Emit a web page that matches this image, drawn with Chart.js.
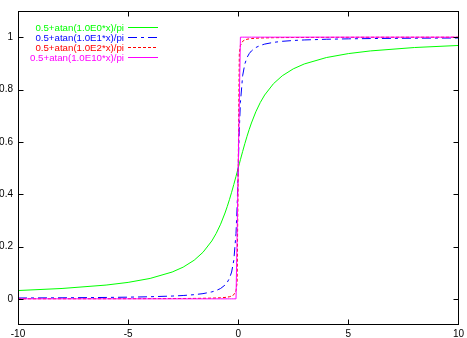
<!DOCTYPE html>
<html>
<head>
<meta charset="utf-8">
<script src="https://cdn.jsdelivr.net/npm/chart.js@4/dist/chart.umd.min.js"></script>
<style>
  html, body { margin: 0; padding: 0; background: #fff; }
  #wrap { width: 467px; height: 338px; }
</style>
</head>
<body>
<div id="wrap"><canvas id="myChart" width="467" height="338"></canvas></div>
<script>
// x positions the curves were read at (denser close to 0)
const xValues = [-10, -8, -6, -5, -4, -3, -2.5, -2, -1.6, -1.2, -1, -0.8, -0.6, -0.5, -0.4, -0.3, -0.2, -0.1, -0.05,
  0, 0.05, 0.1, 0.2, 0.3, 0.4, 0.5, 0.6, 0.8, 1, 1.2, 1.6, 2, 2.5, 3, 4, 5, 6, 8, 10];

// 0.5+atan(1.0E0*x)/pi
const greenValues = [0.0317, 0.0396, 0.0526, 0.0628, 0.0780, 0.1024, 0.1211, 0.1476, 0.1778, 0.2211, 0.25, 0.2852, 0.3280, 0.3524, 0.3789, 0.4072, 0.4372, 0.4683, 0.4841,
  0.5, 0.5159, 0.5317, 0.5628, 0.5928, 0.6211, 0.6476, 0.6720, 0.7148, 0.75, 0.7789, 0.8222, 0.8524, 0.8789, 0.8976, 0.9220, 0.9372, 0.9474, 0.9604, 0.9683];
// 0.5+atan(1.0E1*x)/pi
const blueValues = [0.0032, 0.0040, 0.0053, 0.0064, 0.0080, 0.0106, 0.0127, 0.0159, 0.0199, 0.0265, 0.0317, 0.0396, 0.0526, 0.0628, 0.0780, 0.1024, 0.1476, 0.25, 0.3524,
  0.5, 0.6476, 0.75, 0.8524, 0.8976, 0.9220, 0.9372, 0.9474, 0.9604, 0.9683, 0.9735, 0.9801, 0.9841, 0.9873, 0.9894, 0.9920, 0.9936, 0.9947, 0.9960, 0.9968];
// 0.5+atan(1.0E2*x)/pi
const redValues = [0.0003, 0.0004, 0.0005, 0.0006, 0.0008, 0.0011, 0.0013, 0.0016, 0.0020, 0.0027, 0.0032, 0.0040, 0.0053, 0.0064, 0.0080, 0.0106, 0.0159, 0.0317, 0.0628,
  0.5, 0.9372, 0.9683, 0.9841, 0.9894, 0.9920, 0.9936, 0.9947, 0.9960, 0.9968, 0.9973, 0.9980, 0.9984, 0.9987, 0.9989, 0.9992, 0.9994, 0.9995, 0.9996, 0.9997];
// 0.5+atan(1.0E10*x)/pi  (the plot only shows the step between x=-0.1 and x=0.1)
const magentaValues = [0, 0, 0, 0, 0, 0, 0, 0, 0, 0, 0, 0, 0, 0, 0, 0, 0, 0, null,
  null, null, 1, 1, 1, 1, 1, 1, 1, 1, 1, 1, 1, 1, 1, 1, 1, 1, 1, 1];

const seriesLabels = ["0.5+atan(1.0E0*x)/pi", "0.5+atan(1.0E1*x)/pi", "0.5+atan(1.0E2*x)/pi", "0.5+atan(1.0E10*x)/pi"];
const xTicks = [-10, -5, 0, 5, 10];
const yTicks = [0, 0.2, 0.4, 0.6, 0.8, 1];

const colors = ["#00ff00", "#0000ff", "#ff0000", "#ff00ff"];
const dashes = [[], [9, 4, 3, 4], [3, 2], []];

function toPoints(ys) {
  return xValues.map((x, i) => ({ x: x, y: ys[i] }));
}

const allValues = [greenValues, blueValues, redValues, magentaValues];
const datasets = allValues.map((vals, i) => ({
  label: seriesLabels[i],
  data: toPoints(vals),
  borderColor: colors[i],
  borderWidth: 1,
  borderDash: dashes[i],
  pointRadius: 0,
  tension: 0,
  fill: false,
  spanGaps: true,
  order: 4 - i, // last series on top, like gnuplot
}));

const FONT = "Liberation Sans";

// gnuplot style frame: box all round, ticks pointing inwards on every side, key inside
const framePlugin = {
  id: "frame",
  afterDraw(chart) {
    const ctx = chart.ctx;
    const a = chart.chartArea;
    const xs = chart.scales.x;
    const ys = chart.scales.y;
    const l = Math.floor(a.left) + 0.5, r = Math.floor(a.right) + 0.5;
    const t = Math.floor(a.top) + 0.5, b = Math.floor(a.bottom) - 0.5;
    ctx.save();
    ctx.strokeStyle = "#000";
    ctx.lineWidth = 1;
    ctx.setLineDash([]);
    ctx.strokeRect(l, t, r - l, b - t);
    ctx.beginPath();
    xTicks.forEach((v) => {
      const px = Math.round(xs.getPixelForValue(v)) + 0.5;
      ctx.moveTo(px, b); ctx.lineTo(px, b - 5);
      ctx.moveTo(px, t); ctx.lineTo(px, t + 5);
    });
    yTicks.forEach((v) => {
      const py = Math.round(ys.getPixelForValue(v)) + 0.5;
      ctx.moveTo(l, py); ctx.lineTo(l + 5, py);
      ctx.moveTo(r, py); ctx.lineTo(r - 5, py);
    });
    ctx.stroke();

    // key
    ctx.font = "9.7px '" + FONT + "'";
    ctx.textAlign = "right";
    ctx.textBaseline = "middle";
    seriesLabels.forEach((lab, i) => {
      const y = 27.5 + i * 10;
      ctx.fillStyle = colors[i];
      ctx.fillText(lab, 124, y + 0.5);
      ctx.strokeStyle = colors[i];
      ctx.setLineDash(dashes[i]);
      ctx.beginPath();
      ctx.moveTo(128, y);
      ctx.lineTo(158, y);
      ctx.stroke();
    });
    ctx.restore();
  },
};

new Chart(document.getElementById("myChart"), {
  type: "line",
  data: { datasets: datasets },
  options: {
    responsive: false,
    animation: false,
    layout: { padding: { top: 0, right: 6, left: 0, bottom: 0 } },
    plugins: {
      legend: { display: false },
      tooltip: { enabled: false },
    },
    scales: {
      x: {
        type: "linear",
        min: -10,
        max: 10,
        afterBuildTicks: (s) => { s.ticks = xTicks.map((v) => ({ value: v })); },
        afterFit: (s) => { s.height = 13; },
        grid: { display: false, drawTicks: false },
        border: { display: false },
        ticks: { color: "#000", font: { family: FONT, size: 10 }, padding: 3, maxRotation: 0,
          callback: (v) => String(Math.round(v * 10) / 10) },
      },
      y: {
        type: "linear",
        min: -0.1,
        max: 1.1,
        afterBuildTicks: (s) => { s.ticks = yTicks.map((v) => ({ value: v })); },
        afterFit: (s) => { s.width = 18; },
        grid: { display: false, drawTicks: false },
        border: { display: false },
        ticks: { color: "#000", font: { family: FONT, size: 10 }, padding: 5,
          callback: (v) => String(Math.round(v * 10) / 10) },
      },
    },
  },
  plugins: [framePlugin],
});
</script>
</body>
</html>
